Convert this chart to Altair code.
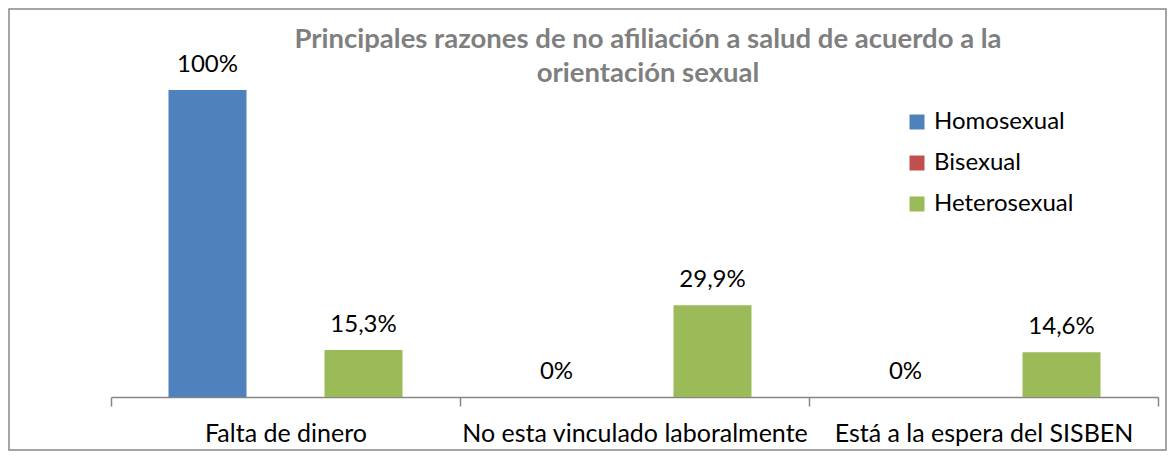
import altair as alt
import pandas as pd

categories = ["Falta de dinero", "No esta vinculado laboralmente", "Está a la espera del SISBEN"]
series = ["Homosexual", "Bisexual", "Heterosexual"]
homosexual = [100.0, 0.0, 0.0]
bisexual = [None, None, None]
heterosexual = [15.3, 29.9, 14.6]
colors = ["#4F81BD", "#C0504D", "#9BBB59"]
title_text = "Principales razones de no afiliación a salud de acuerdo a la\norientación sexual"


def fmt(v):
    s = f"{v:.1f}".rstrip("0").rstrip(".")
    return s.replace(".", ",") + "%"


rows = []
for i, cat in enumerate(categories):
    for name, vals in zip(series, [homosexual, bisexual, heterosexual]):
        v = vals[i]
        if v is None:
            continue
        rows.append({"categoria": cat, "serie": name, "valor": v, "etiqueta": fmt(v)})
df = pd.DataFrame(rows)

FONT = "Lato"
W, H = 1157, 441

base = alt.Chart(df).encode(
    x=alt.X(
        "categoria:N",
        sort=categories,
        scale=alt.Scale(range=[102, 1149], paddingInner=0, paddingOuter=0),
        axis=alt.Axis(
            title=None, orient="bottom", offset=-53, tickBand="extent", tickSize=9,
            domainColor="#868686", tickColor="#868686", domainWidth=1.5, tickWidth=1.5,
            labelFontSize=25, labelFont=FONT, labelColor="black", labelPadding=35,
            labelBaseline="alphabetic", labelAngle=0, labelLimit=0, grid=False,
        ),
    ),
    xOffset=alt.XOffset(
        "serie:N", sort=series,
        scale=alt.Scale(domain=series, paddingInner=0, paddingOuter=0.737),
    ),
    y=alt.Y("valor:Q", scale=alt.Scale(domain=[0, 100], range=[388, 81], nice=False, zero=True), axis=None),
)

bars = base.mark_bar().encode(
    color=alt.Color(
        "serie:N",
        scale=alt.Scale(domain=series, range=colors),
        legend=alt.Legend(
            title=None, orient="none", legendX=896, legendY=101,
            symbolType="square", symbolSize=225, symbolStrokeWidth=0,
            labelFontSize=24, labelFont=FONT, labelColor="black",
            rowPadding=17, labelOffset=5, labelLimit=0,
        ),
    )
)

labels = base.mark_text(dy=-18, baseline="alphabetic", fontSize=24, font=FONT, color="black").encode(
    text="etiqueta:N"
)

title = alt.Chart(pd.DataFrame({"t": [title_text]})).mark_text(
    lineBreak="\n", lineHeight=34, baseline="alphabetic", align="center",
    fontSize=27.5, fontWeight="bold", color="#7F7F7F", font=FONT,
).encode(text="t:N", x=alt.value(639), y=alt.value(39))

chart = (
    alt.layer(bars, labels, title)
    .properties(width=W, height=H, padding=1, background="white")
    .configure_view(stroke="#888888", strokeWidth=1.5)
)

chart.save("out.html", embed_options={"renderer": "svg", "actions": False})
